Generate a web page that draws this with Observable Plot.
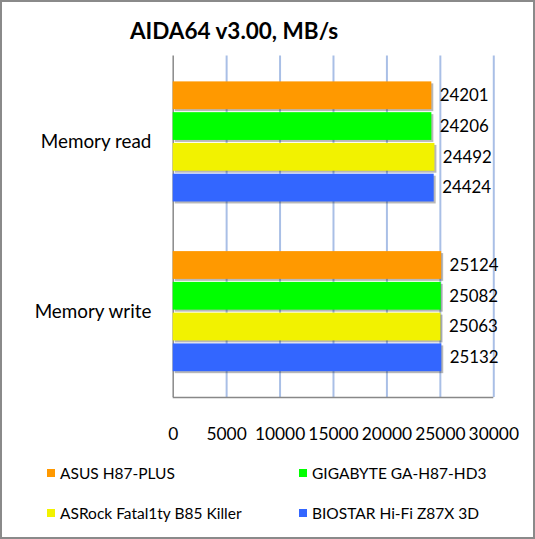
<!DOCTYPE html>
<html><head><meta charset="utf-8">
<script src="https://cdn.jsdelivr.net/npm/d3@7"></script>
<script src="https://cdn.jsdelivr.net/npm/@observablehq/plot@0.6"></script>
<style>
body{margin:0;background:#fff;font-family:Lato,"Liberation Sans",sans-serif;}
#box{position:relative;width:535px;height:539px;box-sizing:border-box;border:2px solid #8a8a8a;overflow:hidden;}
#box svg{position:absolute;left:-2px;top:-2px;background:transparent;}
#title{position:absolute;left:0;top:15px;width:464px;text-align:center;font-weight:bold;font-size:22.5px;color:#000;}
.leg{position:absolute;font-size:15.5px;color:#000;display:flex;align-items:center;white-space:nowrap;}
.leg span.sw{display:inline-block;width:8px;height:8px;margin-right:5px;}
</style></head>
<body><div id="box"><div id="title">AIDA64 v3.00, MB/s</div></div>
<script>
const categories = ["Memory read", "Memory write"];
const series = ["ASUS H87-PLUS", "GIGABYTE GA-H87-HD3", "ASRock Fatal1ty B85 Killer", "BIOSTAR Hi-Fi Z87X 3D"];
const colors = ["#ff9900", "#00ff00", "#f2f200", "#3366ff"];
const readValues = [24201, 24206, 24492, 24424];
const writeValues = [25124, 25082, 25063, 25132];
const xTicks = [0, 5000, 10000, 15000, 20000, 25000, 30000];

const data = [];
series.forEach((s, i) => {
  data.push({cat: categories[0], series: s, value: readValues[i]});
  data.push({cat: categories[1], series: s, value: writeValues[i]});
});

const W = 535, H = 539;
const M = {marginTop: 56, marginBottom: 139, marginLeft: 174, marginRight: 38};
const box = document.getElementById("box");
const font = "Lato, 'Liberation Sans', sans-serif";

// Background: grid, axes
const bg = Plot.plot({
  width: W, height: H, ...M,
  style: {background: "transparent", fontFamily: font, fontSize: "17px", color: "#000"},
  x: {domain: [0, 30000]},
  y: {domain: [0, 1], axis: null},
  marks: [
    Plot.ruleX(xTicks.slice(1), {stroke: "#a9bfe6", strokeWidth: 2}),
    Plot.ruleX([0], {stroke: "#888", strokeWidth: 1.5}),
    Plot.ruleY([0], {stroke: "#888", strokeWidth: 1.5}),
    Plot.axisX({ticks: xTicks, tickFormat: d => String(d), tickSize: 0, tickPadding: 30, fontSize: 17.5, label: null})
  ]
});
box.appendChild(bg);

// Foreground: bars with facets
const fg = Plot.plot({
  width: W, height: H, ...M,
  style: {background: "transparent", fontFamily: font, fontSize: "17px", color: "#000"},
  x: {domain: [0, 30000], axis: null},
  fy: {domain: categories, paddingInner: 0.275, paddingOuter: 0.14, label: null},
  y: {domain: series, axis: null, paddingInner: 0.09, paddingOuter: 0},
  color: {domain: series, range: colors},
  marks: [
    Plot.barX(data, {fy: "cat", y: "series", x: "value", fill: "#000", fillOpacity: 0.28, dx: 2, dy: 2}),
    Plot.barX(data, {fy: "cat", y: "series", x: "value", fill: "series"}),
    Plot.text(data, {fy: "cat", y: "series", x: "value", text: d => String(d.value), textAnchor: "start", dx: 8, fontSize: 17, fill: "#000"}),
    Plot.axisFy({anchor: "left", tickSize: 0, tickPadding: 22, fontSize: 19, label: null})
  ]
});
box.appendChild(fg);

// Legend
const legPos = [[45, 472], [297, 472], [45, 512], [297, 512]];
series.forEach((s, i) => {
  const d = document.createElement("div");
  d.className = "leg";
  d.style.left = legPos[i][0] + "px";
  d.style.top = (legPos[i][1] - 12) + "px";
  d.style.height = "22px";
  d.innerHTML = `<span class="sw" style="background:${colors[i]}"></span>${s}`;
  box.appendChild(d);
});
</script>
</body></html>
